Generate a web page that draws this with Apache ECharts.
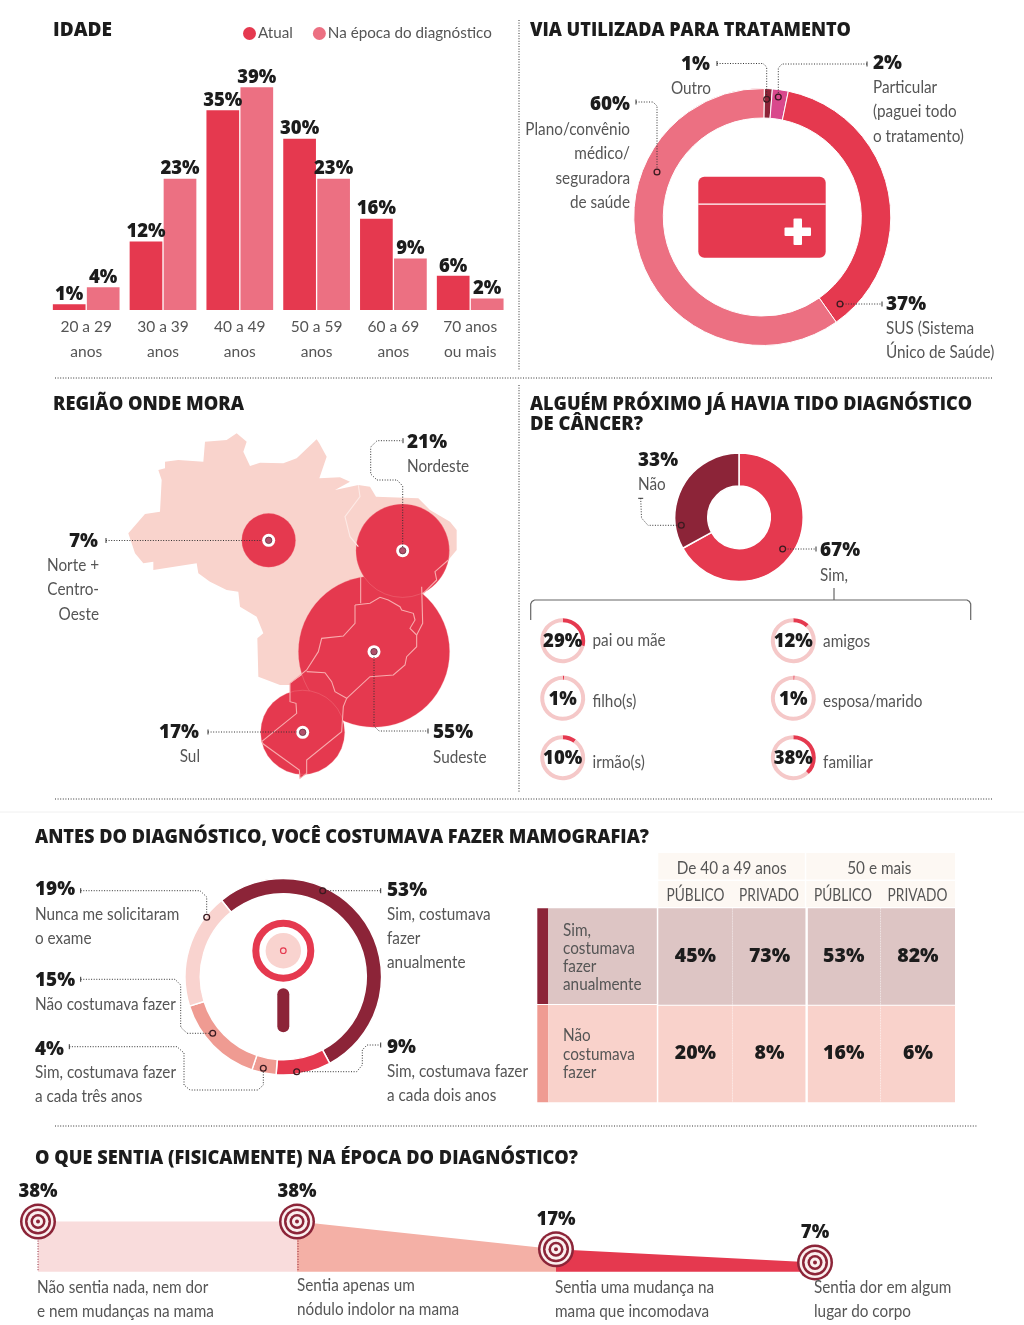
<!DOCTYPE html>
<html><head><meta charset="utf-8">
<style>html,body{margin:0;padding:0;background:#fff}#c{width:1024px;height:1325px}</style>
<script src="https://cdn.jsdelivr.net/npm/echarts@6/dist/echarts.min.js"></script>
</head><body><div id="c"></div>
<script>
// ---------- data ----------
const ageCategories = ['20 a 29\nanos','30 a 39\nanos','40 a 49\nanos','50 a 59\nanos','60 a 69\nanos','70 anos\nou mais'];
const ageCurrent = [1,12,35,30,16,6];
const ageAtDiagnosis = [4,23,39,23,9,2];
const treatmentNames = ['Outro','Particular','SUS','Plano'];
const treatmentValues = [1,2,37,60];
const regionNames = ['Norte + Centro-Oeste','Nordeste','Sudeste','Sul'];
const regionValues = [7,21,55,17];
const regionCenters = [[716,-451],[1118,-482],[1032,-785],[818,-1027]];
const closeValues = [67,33];
const closeWhoNames = ['pai ou mãe','amigos','filho(s)','esposa/marido','irmão(s)','familiar'];
const closeWhoValues = [29,12,1,1,10,38];
const mammoNames = ['Sim, anualmente','A cada dois anos','A cada três anos','Não costumava','Nunca solicitaram'];
const mammoValues = [53,9,4,15,19];
const tableCols = ['PÚBLICO','PRIVADO','PÚBLICO','PRIVADO'];
const tableRows = ['Sim, costumava fazer anualmente','Não costumava fazer'];
const tableValues = [[45,73,53,82],[20,8,16,6]];
const sensationValues = [38,38,17,7];
const brazilOutline = [[620,130],[650,155],[640,185],[660,228],[690,218],[760,220],[800,205],[860,148],[868,160],[890,200],[868,265],[930,262],[960,275],[915,300],[985,285],[1020,290],[1038,320],[1165,325],[1200,360],[1260,395],[1280,420],[1280,480],[1255,510],[1215,545],[1220,570],[1180,610],[1178,700],[1160,770],[1125,825],[1020,900],[950,925],[940,950],[935,1025],[830,1110],[830,1150],[810,1165],[808,1140],[700,1062],[695,1055],[800,970],[798,940],[780,935],[780,885],[750,885],[685,860],[682,745],[700,730],[680,680],[630,650],[625,605],[590,600],[540,575],[505,550],[500,520],[370,540],[370,515],[340,520],[315,490],[295,430],[345,372],[390,365],[395,270],[385,240],[405,235],[405,215],[445,210],[520,215],[525,155],[590,150]];
const sulOutline = [[830,845],[885,848],[905,875],[915,905],[950,925],[940,950],[935,1025],[830,1110],[830,1150],[810,1165],[808,1140],[700,1062],[695,1055],[800,970],[798,940],[780,935],[780,880]];
const borderLines = [
 [[985,285],[990,320],[945,380],[960,440],[985,470]],
 [[992,560],[992,640]],
 [[1175,590],[1178,700],[1160,735]],
 [[975,645],[1020,640],[1050,622],[1075,630],[1110,650],[1115,660],[1150,670],[1155,690],[1140,715],[1160,735],[1160,770],[1130,800],[1125,825],[1090,855],[1020,860],[950,925]],
 [[975,645],[975,700],[940,738],[875,745],[865,785],[830,840],[780,880]],
 [[830,845],[885,848],[905,875],[915,905],[950,925],[940,950],[935,1025],[830,1110],[830,1150],[810,1165],[808,1140],[700,1062],[695,1055],[800,970],[798,940],[780,935],[780,880]],
 [[1255,510],[1215,545],[1220,570],[1180,610]]
];
// ---------- style ----------
const RED='#E5394F', PINK='#EC7082', DARK='#8C2438', SALMON='#EF9B92', PALE='#F9D3CF', INK='#1c1c1c', GREY='#555';
const BODYFAM='Lato,sans-serif';
const BOLD='"Open Sans",sans-serif';
const BODY=`18px ${BODYFAM}`, NUM=`800 19.5px ${BOLD}`, TITLE=`800 20px ${BOLD}`;
const g=[];
const ctx=document.createElement('canvas').getContext('2d');
function T(text,x,y,o={}){
  const font=o.font||BODY; let sx=o.sx||(o.font?1:0.85);
  if(o.w){ctx.font=font;sx=o.w/ctx.measureText(text).width;}
  g.push({type:'text',x,y:o.font?y+1:y,scaleX:sx,z:60,silent:true,style:{text,font,fill:o.fill||GREY,align:o.a||'left',verticalAlign:'middle'}});
}
const N=(t,x,y,a)=>T(t,x,y,{font:NUM,fill:INK,a,sx:0.97});
function tl(t,x,y,w){T(t,x,y,{font:TITLE,fill:INK,w});}
function L(pts,o={}){
  g.push({type:'polyline',z:o.z||55,silent:true,shape:{points:pts},style:{stroke:o.c||'#333',lineWidth:o.lw||1,lineDash:o.dash===null?null:(o.dash||[1,1.6]),fill:null}});
}
function dot(x,y,r=2.9){g.push({type:'circle',z:57,silent:true,shape:{cx:x,cy:y,r},style:{fill:'rgba(0,0,0,0)',stroke:'#3a1a20',lineWidth:1.3}});}
function tick(x,y,v=true){L(v?[[x,y-2.5],[x,y+2.5]]:[[x-2.5,y],[x+2.5,y]],{dash:null});}
function R(x,y,w,h,fill,r=0,z=5){g.push({type:'rect',z,silent:true,shape:{x,y,width:w,height:h,r},style:{fill}});}
// dividers
L([[519,20],[519,371]]);L([[55,378],[993,378]]);L([[519,385],[519,793]]);L([[55,799],[993,799]]);L([[55,1126],[978,1126]]);
L([[0,812],[1024,812]],{c:'#f0f0f0',dash:null});
// titles
tl('IDADE',53,29,59);tl('VIA UTILIZADA PARA TRATAMENTO',530,29,321);tl('REGIÃO ONDE MORA',53,403,191);
tl('ALGUÉM PRÓXIMO JÁ HAVIA TIDO DIAGNÓSTICO',530,403,442);tl('DE CÂNCER?',530,423,113);
tl('ANTES DO DIAGNÓSTICO, VOCÊ COSTUMAVA FAZER MAMOGRAFIA?',35,836,614);
tl('O QUE SENTIA (FISICAMENTE) NA ÉPOCA DO DIAGNÓSTICO?',35,1157,543);
// treatment annotations
N(treatmentValues[0]+'%',710,63,'right');T('Outro',711,88,{a:'right'});
tick(717,63.5);L([[717,63.5],[763,63.5],[766.7,67],[766.7,97]]);dot(766.7,99.3);
N(treatmentValues[1]+'%',873,62);['Particular','(paguei todo','o tratamento)'].forEach((t,i)=>T(t,873,87+i*24.5));
tick(867,64);L([[867,64],[782,64],[778.3,68],[778.3,95]]);dot(778.3,97);
N(treatmentValues[3]+'%',630,103,'right');['Plano/convênio','médico/','seguradora','de saúde'].forEach((t,i)=>T(t,630,129+i*24.4,{a:'right'}));
tick(636,102);L([[636,102],[653,102],[657,106],[657,170]]);dot(657,172);
N(treatmentValues[2]+'%',886,303);['SUS (Sistema','Único de Saúde)'].forEach((t,i)=>T(t,886,328+i*24));
L([[843,304],[882,304]]);tick(882,304);dot(840,304);
// card icon
R(698.3,176.7,127.4,81,RED,6,20);R(698.3,203.5,127.4,1.2,'#fff',0,21);R(784.5,227.5,26.5,8.5,'#fff',1,21);R(793.5,218.5,8.5,26.5,'#fff',1,21);
// region annotations
N(regionValues[0]+'%',98,540,'right');['Norte +','Centro-','Oeste'].forEach((t,i)=>T(t,99,565+i*24.5,{a:'right'}));
tick(106,540.5);L([[106,540.5],[262,540.5]]);
N(regionValues[1]+'%',407,441);T('Nordeste',407,466);
L([[402.7,547],[402.7,486],[397,480],[377,480],[370.7,474],[370.7,447],[377,440.7],[402,440.7]]);tick(403,440.7);
N(regionValues[3]+'%',199,731,'right');T('Sul',200,756,{a:'right'});
tick(208,732);L([[208,732],[297,732]]);
N(regionValues[2]+'%',433,731);T('Sudeste',433,757);
L([[374,657],[374,726],[379,731],[428,731]]);tick(428,731);
// close annotations
N(closeValues[1]+'%',638,459);T('Não',638,484);
tick(640.7,498.3,false);L([[640.7,498.3],[641.5,518],[648,525.3],[679,525.3]]);dot(681.3,525.3);
N(closeValues[0]+'%',820,549.5);T('Sim,',820,575);
L([[785,549],[816,549]]);tick(816,549);dot(782.7,549);
L([[530.7,620],[530.7,604],[532,601.5],[534.5,600],[967,600],[969.4,601.5],[970.7,604],[970.7,620]],{c:'#666',dash:null,lw:1.2});
L([[834,600],[834,588]],{c:'#666',dash:null,lw:1.2});
const whoPos=[[562.7,640.7],[793.3,640.7],[562.7,698.3],[793.3,698.3],[562.7,757.7],[793.3,757.7]];
const whoLabY=[640,641,701,701,762,762];
closeWhoNames.forEach((t,i)=>T(t,whoPos[i][0]+29.8,whoLabY[i]));
// mammography annotations
N(mammoValues[4]+'%',35,888);T('Nunca me solicitaram',35,914);T('o exame',35,938);
tick(80.7,890.7);L([[80.7,890.7],[200,890.7],[206.7,897],[206.7,915]]);dot(206.7,917.3);
N(mammoValues[3]+'%',35,979);T('Não costumava fazer',35,1004);
tick(80.7,979.3);L([[80.7,979.3],[175,979.3],[180.7,985],[180.7,1027],[187,1033.3],[210,1033.3]]);dot(212.7,1033.3);
N(mammoValues[2]+'%',35,1048);T('Sim, costumava fazer',35,1072);T('a cada três anos',35,1096);
tick(69.3,1046.7);L([[69.3,1046.7],[177,1046.7],[184,1053],[184,1085],[190,1090],[258,1090],[263.3,1085],[263.3,1071]]);dot(263.3,1068.3);
N(mammoValues[0]+'%',387,889);['Sim, costumava','fazer','anualmente'].forEach((t,i)=>T(t,387,914+i*24));
L([[325,890.7],[380.7,890.7]]);tick(380.7,890.7);dot(322.7,890.7);
N(mammoValues[1]+'%',387,1046);T('Sim, costumava fazer',387,1071);T('a cada dois anos',387,1095);
L([[299,1071.7],[356.7,1071.7],[362.3,1065],[362.3,1050],[367,1045],[380.7,1045]]);tick(380.7,1045);dot(296.7,1071.7);
// magnifier icon
g.push({type:'circle',z:20,silent:true,shape:{cx:283.3,cy:950.7,r:27.5},style:{fill:'#fff',stroke:RED,lineWidth:7}});
g.push({type:'circle',z:21,silent:true,shape:{cx:283.3,cy:950.7,r:17.7},style:{fill:PALE}});
g.push({type:'circle',z:22,silent:true,shape:{cx:283.3,cy:950.7,r:2.8},style:{fill:PALE,stroke:RED,lineWidth:1.2}});
R(277.3,988.3,12,44,DARK,6,20);
// table header
R(658.3,853,146.5,26.5,'#FDF8F3');R(806.3,853,148.7,26.5,'#FDF8F3');R(658.3,881,146.5,26,'#FDF8F3');R(806.3,881,148.7,26,'#FDF8F3');
T('De 40 a 49 anos',731.7,867.7,{a:'center'});T('50 e mais',879.3,867.7,{a:'center'});
[695.5,769,843,917.5].forEach((x,i)=>T(tableCols[i],x,895.5,{a:'center',sx:0.76}));
R(537.3,908.3,11,95.7,DARK);R(537.3,1005,11,97.3,SALMON);R(548.3,908.3,108.5,95.7,'#DDC5C4');R(548.3,1005,108.5,97.3,'#F9D2CB');
['Sim,','costumava','fazer','anualmente'].forEach((t,i)=>T(t,563,930.5+i*18,{}));
['Não','costumava','fazer'].forEach((t,i)=>T(t,563,1035.5+i*18.5,{}));
// sensation texts
[['Não sentia nada, nem dor','e nem mudanças na mama',37,1287],['Sentia apenas um','nódulo indolor na mama',297,1285],['Sentia uma mudança na','mama que incomodava',555,1287],['Sentia dor em algum','lugar do corpo',814,1287]]
 .forEach(a=>{T(a[0],a[2],a[3]);T(a[1],a[2],a[3]+24);});
L([[38,1238],[38,1271]],{c:DARK});L([[298,1238],[298,1271]],{c:DARK});

// ---------- series ----------
const series=[];
const noL={show:false};
function donut(center,radius,data,startAngle,bw=1){
  series.push({type:'pie',silent:true,center,radius,startAngle,clockwise:true,label:noL,labelLine:noL,
    itemStyle:{borderColor:'#fff',borderWidth:bw},data});
}
const barLabel={show:true,position:'top',distance:0,formatter:'{c}%',fontFamily:'Open Sans',fontWeight:800,fontSize:18.5,color:INK};
series.push({name:'Atual',type:'bar',xAxisIndex:0,yAxisIndex:0,data:ageCurrent,barWidth:32.7,barGap:'4%',itemStyle:{color:RED},label:barLabel,silent:true});
series.push({name:'Na época do diagnóstico',type:'bar',xAxisIndex:0,yAxisIndex:0,data:ageAtDiagnosis,barWidth:32.7,barGap:'4%',itemStyle:{color:PINK},label:barLabel,silent:true});
const tColors=[DARK,'#D9488C',RED,PINK];
donut([762.3,217],[99,128.5],treatmentValues.map((v,i)=>({name:treatmentNames[i],value:v,itemStyle:{color:tColors[i]}})),89.1);
donut([739,517.3],[31.3,64.2],closeValues.map((v,i)=>({value:v,itemStyle:{color:[RED,DARK][i]}})),90,1.5);
closeWhoValues.forEach((v,i)=>{
  series.push({type:'pie',silent:true,center:whoPos[i],radius:[18.5,22.5],startAngle:90,clockwise:true,label:noL,labelLine:noL,
   data:[{value:v,name:closeWhoNames[i],itemStyle:{color:RED},label:{show:true,position:'center',offset:[0,1],formatter:'{c}%',fontFamily:'Open Sans',fontWeight:800,fontSize:18.5,color:INK}},
         {value:100-v,name:'',itemStyle:{color:'#F5C8C8'}}]});
});
const mColors=[DARK,RED,SALMON,SALMON,PALE];
donut([283.3,976.7],[83,98.3],mammoValues.map((v,i)=>({name:mammoNames[i],value:v,itemStyle:{color:mColors[i]}})),129,1.5);
// map bubbles
const bubbleData=regionCenters.map((c,i)=>({name:regionNames[i],value:[c[0],c[1],regionValues[i]]}));
const order=[2,3,0,1];
series.push({type:'scatter',coordinateSystem:'geo',geoIndex:0,z:3,silent:true,
  data:order.map(i=>bubbleData[i]),symbolSize:v=>2*10.2*Math.sqrt(v[2]),
  itemStyle:{color:RED,opacity:1,borderColor:'rgba(250,170,170,.25)',borderWidth:1}});
series.push({type:'lines',coordinateSystem:'geo',geoIndex:0,polyline:true,z:4,silent:true,
  data:borderLines.map((l,i)=>({coords:l.map(p=>[p[0],-p[1]]),lineStyle:{color:i==0?'#FDEAE6':'#F8ABAD',width:1.1,opacity:1}}))});
series.push({type:'scatter',coordinateSystem:'geo',geoIndex:0,z:5,silent:true,data:bubbleData,symbolSize:13,itemStyle:{color:'#fff',opacity:1}});
series.push({type:'scatter',coordinateSystem:'geo',geoIndex:0,z:6,silent:true,data:bubbleData,symbolSize:6.5,itemStyle:{color:'#B0506A',opacity:1,borderColor:'#5a2234',borderWidth:.7}});
// table
series.push({type:'custom',xAxisIndex:1,yAxisIndex:1,silent:true,z:6,
  data:tableValues.flatMap((r,ri)=>r.map((v,ci)=>[ci,ri,v])),encode:{x:0,y:1},
  renderItem(p,api){
    const c=api.value(0),r=api.value(1),v=api.value(2),[x,y]=api.coord([c,r]),[w,h]=api.size([1,1]);
    const L0=x-w/2+(c==2?1.2:0),W=w-(c==1?1.2:0)-(c==2?1.2:0);
    const kids=[{type:'rect',shape:{x:L0,y:y-h/2+(r==1?.5:0),width:W,height:h-.5},style:{fill:r==0?'#DDC5C4':'#F9D2CB'}},
      {type:'text',style:{x,y,text:v+'%',font:NUM,fill:INK,align:'center',verticalAlign:'middle'}}];
    if(c==0||c==2)kids.push({type:'line',shape:{x1:x+w/2,y1:y-h/2,x2:x+w/2,y2:y+h/2},style:{stroke:'#fff',lineWidth:1,lineDash:[1,1.5]}});
    return {type:'group',children:kids};
  }});
// sensations
const sColors=['#F9DCDC','#F4B0A6',RED];
for(let i=0;i<3;i++){
  series.push({type:'line',xAxisIndex:2,yAxisIndex:2,silent:true,clip:false,symbol:'none',z:2,
    data:[[i,sensationValues[i]],[i+1,sensationValues[i+1]]],lineStyle:{width:0},areaStyle:{color:sColors[i],opacity:1}});
}
[36,31,26,21,15,10,4].forEach((s,i)=>{
  series.push({type:'scatter',xAxisIndex:2,yAxisIndex:2,silent:true,z:3+i,clip:false,symbolSize:s,
    data:sensationValues.map((v,k)=>[k,v]),itemStyle:{color:i%2?'#FBEFEF':DARK,opacity:1},
    label:i==0?{show:true,position:'top',distance:2,formatter:p=>p.value[1]+'%',fontFamily:'Open Sans',fontWeight:800,fontSize:18.5,color:INK}:undefined});
});
// map
const f=(name,ring)=>({type:'Feature',properties:{name},geometry:{type:'Polygon',coordinates:[[...ring,ring[0]].map(p=>[p[0],-p[1]])]}});
echarts.registerMap('brasil',{type:'FeatureCollection',features:[f('Brasil',brazilOutline),f('Sul',sulOutline)]});

const chart=echarts.init(document.getElementById('c'),null,{renderer:'canvas'});
chart.setOption({
  animation:false,backgroundColor:'#fff',
  legend:{data:['Atual','Na época do diagnóstico'],icon:'circle',itemWidth:13,itemHeight:13,itemGap:20,left:243,top:26,padding:0,selectedMode:false,
    textStyle:{fontFamily:'Lato',fontSize:15.2,color:GREY,padding:[0,0,0,-3]}},
  grid:[{left:47.8,top:81.6,width:460.8,height:228.4},{left:658.3,top:908.3,width:296.7,height:194},{left:38,top:1218.9,width:777,height:52.8}],
  xAxis:[
    {type:'category',gridIndex:0,data:ageCategories,axisLine:noL,axisTick:noL,axisLabel:{fontFamily:'Lato',fontSize:15.5,color:GREY,lineHeight:25,margin:4}},
    {type:'category',gridIndex:1,data:tableCols.map((c,i)=>c+i),show:false},
    {type:'value',gridIndex:2,min:0,max:3,show:false}],
  yAxis:[
    {type:'value',gridIndex:0,min:0,max:40,show:false},
    {type:'category',gridIndex:1,data:tableRows,inverse:true,show:false},
    {type:'value',gridIndex:2,min:0,max:40,show:false}],
  geo:{map:'brasil',silent:true,roam:false,aspectScale:1,left:30+295/3,top:390+130/3,width:985/3,height:1035/3,
    label:{show:false},itemStyle:{areaColor:'#F9D3CC',borderWidth:0},
    regions:[{name:'Sul',itemStyle:{areaColor:RED}}]},
  series,graphic:{elements:g}
});
</script></body></html>
